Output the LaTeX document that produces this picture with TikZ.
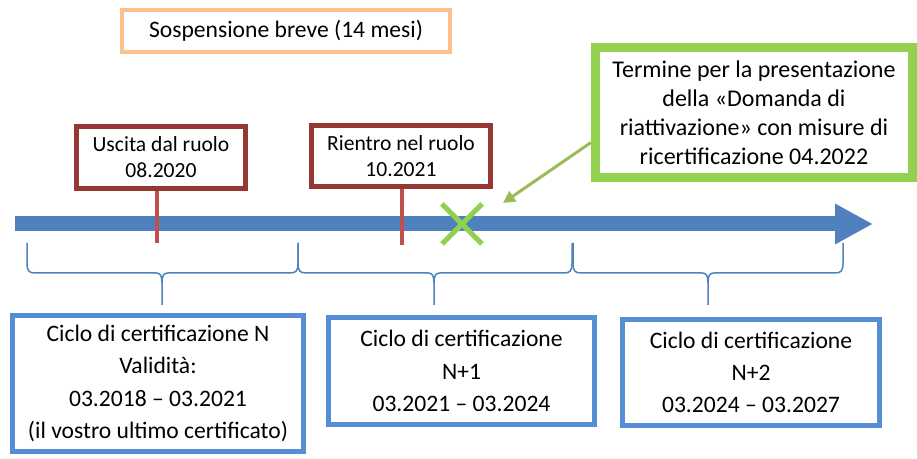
\documentclass[tikz,border=0pt]{standalone}
\usepackage{fontspec}
\setmainfont{Carlito}
\usetikzlibrary{arrows.meta}
\definecolor{asse}{HTML}{4F81BD}
\definecolor{bordoblu}{HTML}{558ED5}
\definecolor{bordobruno}{HTML}{953735}
\definecolor{tacca}{HTML}{C0504D}
\definecolor{verdebox}{HTML}{92D050}
\definecolor{verdefreccia}{HTML}{9BBB59}
\definecolor{arancio}{HTML}{FAC090}
\begin{document}
\begin{tikzpicture}[x=0.5pt, y=-0.5pt,
    sospbox/.style={draw=arancio, line width=2pt, minimum width=164pt, minimum height=21pt, inner sep=0pt, font=\fontsize{11.8}{13}\selectfont},
    eventobox/.style={draw=bordobruno, line width=2.5pt, minimum height=31pt, inner sep=0pt, align=center, font=\fontsize{10.8}{13}\selectfont},
    ciclobox/.style={draw=bordoblu, line width=2.5pt, inner sep=0pt, align=center, font=\fontsize{11.8}{16.2}\selectfont},
    tacca/.style={draw=tacca, line width=2pt},
    graffa/.style={draw=asse, line width=0.75pt}]
    \useasboundingbox (0,0) rectangle (917,459);
    \node[sospbox] (sosp) at (286,31) {Sospensione breve (14 mesi)};
    \coordinate (inizio) at (15,224);
    \coordinate (fine) at (873,224);
    \draw[asse, line width=7.5pt, -{Triangle[length=19pt, width=19pt]}] (inizio) -- (fine);
    \node[eventobox, minimum width=84.5pt] (uscita) at (161,157.5) {Uscita dal ruolo\\08.2020};
    \node[eventobox, minimum width=89.5pt, minimum height=30.5pt] (rientro) at (401,156) {Rientro nel ruolo\\10.2021};
    \coordinate (uscitaT) at (157,243);
    \coordinate (rientroT) at (402,245);
    \draw[tacca] (uscita.south -| uscitaT) -- (uscitaT);
    \draw[tacca] (rientro.south -| rientroT) -- (rientroT);
    \coordinate (scadenza) at (462,224);
    \draw[verdebox, line width=2.5pt] (scadenza) ++(-20,-20) -- ++(40,40);
    \draw[verdebox, line width=2.5pt] (scadenza) ++(-20,20) -- ++(40,-40);
    \node[draw=verdebox, line width=4.5pt, minimum width=158.5pt, minimum height=65pt, inner sep=0pt, align=center, font=\fontsize{12}{14.5}\selectfont] (termine) at (754,112.5) {Termine per la presentazione\\della «Domanda di\\riattivazione» con misure di\\ricertificazione 04.2022};
    \coordinate (freccia) at (503,203);
    \draw[verdefreccia, line width=1.5pt, -{Triangle[length=6pt, width=6pt]}] ([yshift=-15pt]termine.west) -- (freccia);
    \foreach \l/\t/\r in {27/162/298, 298/434/572, 573/708/843}
        \draw[graffa] (\l,243) -- (\l,263) .. controls (\l,271) and (\l+2,273) .. (\l+8,273) -- (\t-6,273) .. controls (\t-2,273) and (\t,275) .. (\t,283) -- (\t,305)
            (\t,283) .. controls (\t,275) and (\t+2,273) .. (\t+6,273) -- (\r-8,273) .. controls (\r-2,273) and (\r,271) .. (\r,263) -- (\r,243);
    \node[ciclobox, minimum width=145.5pt, minimum height=68pt] (cicloN) at (158,383.5) {Ciclo di certificazione N\\Validità:\\03.2018 – 03.2021\\(il vostro ultimo certificato)};
    \node[ciclobox, minimum width=133pt, minimum height=53.5pt] (cicloNa) at (461.5,371) {Ciclo di certificazione\\N+1\\03.2021 – 03.2024};
    \node[ciclobox, minimum width=128.5pt, minimum height=53pt] (cicloNb) at (751,372.5) {Ciclo di certificazione\\N+2\\03.2024 – 03.2027};
\end{tikzpicture}
\end{document}
